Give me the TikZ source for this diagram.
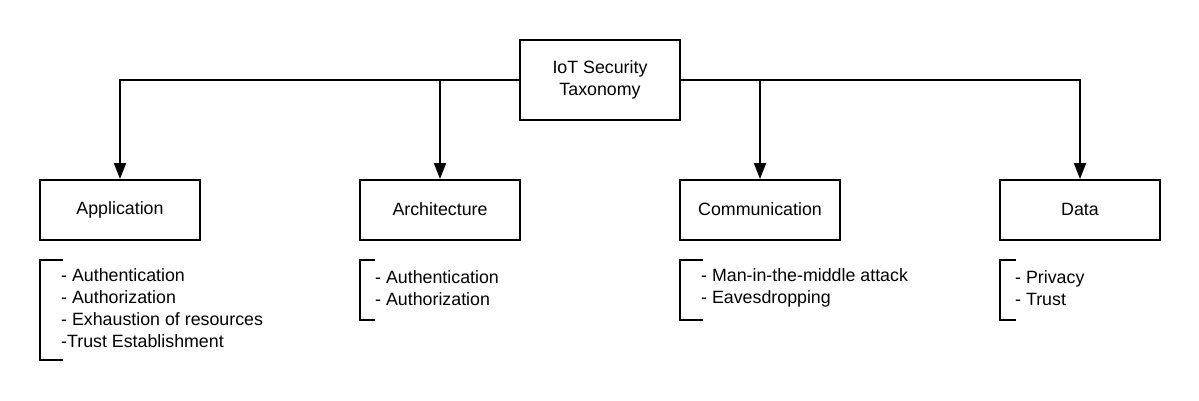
\documentclass[tikz,border=0pt]{standalone}
\usepackage{fontspec}
\setmainfont{Liberation Sans}
\usetikzlibrary{arrows.meta}

\begin{document}
\begin{tikzpicture}[x=1pt, y=-1pt,
    every node/.style={font=\fontsize{17.8}{22}\selectfont},
    catbox/.style={draw, line width=2pt, minimum width=160pt, minimum height=60pt, inner sep=0pt, align=center},
    itemlist/.style={anchor=north west, align=left, inner xsep=21pt, inner ysep=0pt},
    link/.style={line width=2pt, -{Triangle[length=16pt, width=12pt]}},
    bracket/.style={line width=2pt}
  ]
    \useasboundingbox (0,0) rectangle (1199,400);

    % Root
    \node[catbox, minimum height=80pt] (root) at (600,80) {\raisebox{1pt}{IoT Security}\\\raisebox{1pt}{Taxonomy}};

    % Categories
    \node[catbox] (app)  at (120,210)  {\raisebox{1.5pt}{Application}};
    \node[catbox] (arch) at (440,210)  {\raisebox{1.5pt}{Architecture}};
    \node[catbox] (comm) at (760,210)  {\raisebox{1.5pt}{Communication}};
    \node[catbox] (data) at (1080,210) {\raisebox{1.5pt}{Data}};

    % Connectors
    \draw[link] (root.west) -| (app.north);
    \draw[link] (root.west) -| (arch.north);
    \draw[link] (root.east) -| (comm.north);
    \draw[link] (root.east) -| (data.north);

    % Threat lists
    \node[itemlist, minimum height=96pt] (applist) at (40,260)
        {- Authentication\\- Authorization\\- Exhaustion of resources\\-Trust Establishment};
    \node[itemlist, inner xsep=15pt, minimum height=56pt] (archlist) at (360,260)
        {- Authentication\\- Authorization};
    \node[itemlist, minimum height=56pt] (commlist) at (680,260)
        {- Man-in-the-middle attack\\- Eavesdropping};
    \node[itemlist, inner xsep=15pt, minimum height=56pt] (datalist) at (1000,260)
        {- Privacy\\- Trust};

    % Brackets
    \draw[bracket] ([xshift=23pt]applist.north west) -- (40,260) -- (40,360) -- ++(23,0);
    \draw[bracket] ([xshift=15pt]archlist.north west) -- (360,260) -- (360,320) -- ++(15,0);
    \draw[bracket] ([xshift=23pt]commlist.north west) -- (680,260) -- (680,320) -- ++(23,0);
    \draw[bracket] ([xshift=16pt]datalist.north west) -- (1000,260) -- (1000,320) -- ++(16,0);
\end{tikzpicture}
\end{document}
